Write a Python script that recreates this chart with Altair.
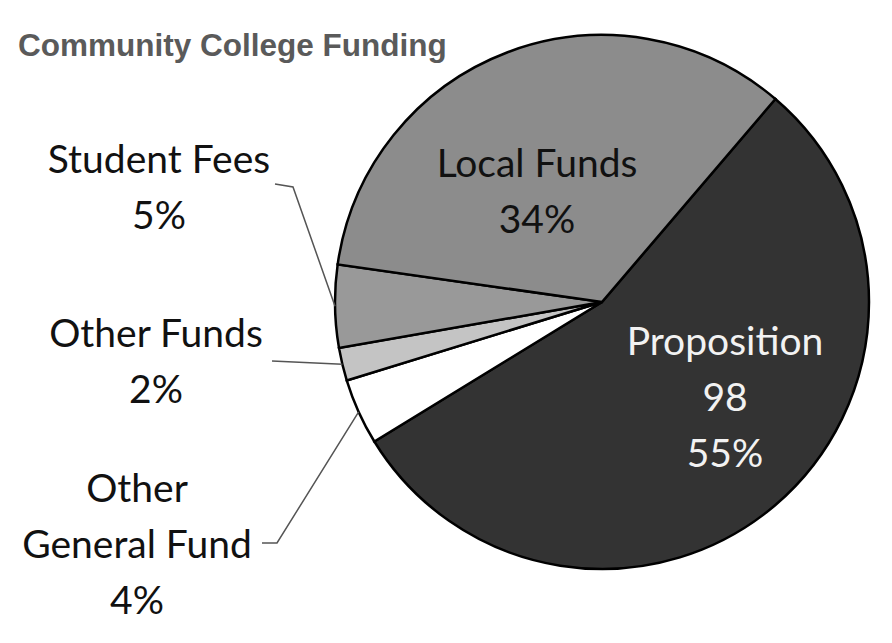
import math
import altair as alt
import pandas as pd

# ---- data ----
categories = ["Proposition 98", "Other General Fund", "Other Funds", "Student Fees", "Local Funds"]
values = [55, 4, 2, 5, 34]
label_lines = [["Proposi\u200ction", "98"], ["Other", "General Fund"], ["Other Funds"], ["Student Fees"], ["Local Funds"]]
slice_colors = ["#333333", "#ffffff", "#c4c4c4", "#999999", "#8c8c8c"]
title_text = "Community College Funding"

# ---- layout (plot-area pixels) ----
W, H = 876, 627
CX, CY, R = 594, 294, 267
START_DEG = 40.5
LINE_H = 56
label_layout = {
    "Proposition 98": dict(x=717, y=347, color="#f2f2f2"),
    "Other General Fund": dict(x=129, y=494, color="#111111"),
    "Other Funds": dict(x=148, y=339, color="#111111"),
    "Student Fees": dict(x=151, y=165, color="#111111"),
    "Local Funds": dict(x=529, y=169, color="#111111"),
}
leader_anchors = {
    "Student Fees": [(267, 176), (285, 179)],
    "Other Funds": [(264, 353)],
    "Other General Fund": [(254, 535), (269, 535)],
}

total = sum(values)
pie_df = pd.DataFrame({"category": categories, "value": values, "ord": list(range(len(values)))})

# mid angles of slices (degrees clockwise from 12 o'clock)
mid_angle = {}
cum = 0
for c, v in zip(categories, values):
    mid_angle[c] = START_DEG + 360.0 * (cum + v / 2) / total
    cum += v

# text rows
text_rows = []
for c, v, lines in zip(categories, values, label_lines):
    lay = label_layout[c]
    all_lines = lines + [f"{v}%"]
    for i, t in enumerate(all_lines):
        text_rows.append({"x": lay["x"], "y": lay["y"] + i * LINE_H, "text": t, "tc": lay["color"]})
text_df = pd.DataFrame(text_rows)

# leader lines
line_rows = []
for c, pts in leader_anchors.items():
    a = math.radians(mid_angle[c])
    end = (CX + R * math.sin(a), CY - R * math.cos(a))
    for i, (px, py) in enumerate(pts + [end]):
        line_rows.append({"category": c, "i": i, "x": px, "y": py})
line_df = pd.DataFrame(line_rows)

start = math.radians(START_DEG)
arc = alt.Chart(pie_df).mark_arc(outerRadius=R, stroke="#000000", strokeWidth=2.5).encode(
    theta=alt.Theta("value:Q", stack=True, scale=alt.Scale(domain=[0, total], range=[start, start + 2 * math.pi])),
    order=alt.Order("ord:Q"),
    color=alt.Color("category:N", scale=alt.Scale(domain=categories, range=slice_colors), legend=None),
    x=alt.value(CX),
    y=alt.value(CY),
)

leaders = alt.Chart(line_df).mark_line(color="#555555", strokeWidth=1.5).encode(
    x=alt.X("x:Q", scale=None, axis=None),
    y=alt.Y("y:Q", scale=None, axis=None),
    detail="category:N",
    order="i:Q",
)

labels = alt.Chart(text_df).mark_text(font="Lato", fontSize=39, align="center", baseline="alphabetic").encode(
    x=alt.X("x:Q", scale=None, axis=None),
    y=alt.Y("y:Q", scale=None, axis=None),
    text="text:N",
    color=alt.Color("tc:N", scale=None),
)

title = alt.Chart(pd.DataFrame({"t": [title_text]})).mark_text(
    font="Liberation Sans", fontWeight="bold", fontSize=31.5, color="#5a5a5a",
    align="left", baseline="alphabetic",
).encode(x=alt.value(10), y=alt.value(48), text="t:N")

chart = alt.layer(arc, leaders, labels, title).properties(
    width=W, height=H, autosize=alt.AutoSizeParams(type="none"), padding=0
).configure_view(stroke=None)

chart.save("out.html", embed_options={"renderer": "svg", "actions": False})
